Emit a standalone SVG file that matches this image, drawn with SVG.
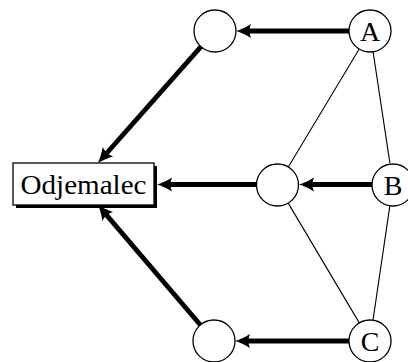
<svg xmlns="http://www.w3.org/2000/svg" width="408" height="362" viewBox="0 0 408 362">
  <style>
    .node { fill: #fff; stroke: #000; stroke-width: 1.3; }
    .label { font-family: "Liberation Serif", "Times New Roman", serif; font-size: 28px; fill: #000; text-anchor: middle; }
    .thick { stroke: #000; stroke-width: 4.8; fill: none; marker-end: url(#head); }
    .thin { stroke: #000; stroke-width: 1.1; fill: none; }
  </style>
  <defs>
    <marker id="head" viewBox="-1 -8 17 16" refX="7" refY="0" markerWidth="17" markerHeight="16" markerUnits="userSpaceOnUse" orient="auto">
      <path d="M15 0 C11 -1 4.5 -4.2 0 -7 C2 -3 2 3 0 7 C4.5 4.2 11 1 15 0 Z" fill="#000"/>
    </marker>
  </defs>

  <g id="connectors">
    <line class="thin" x1="359.2" y1="49" x2="288.3" y2="167"/>
    <line class="thin" x1="288.2" y1="203.1" x2="359.3" y2="322.9"/>
    <line class="thin" x1="373.1" y1="51.8" x2="389.9" y2="163.2"/>
    <line class="thin" x1="390" y1="204.8" x2="373" y2="320.2"/>
    <line class="thick" x1="349" y1="31" x2="244" y2="31"/>
    <line class="thick" x1="372" y1="184.5" x2="307" y2="184.5"/>
    <line class="thick" x1="349" y1="341" x2="243" y2="341"/>
    <line class="thick" x1="256" y1="184.5" x2="165" y2="184.5"/>
    <line class="thick" x1="201" y1="46.6" x2="103.3" y2="157"/>
    <line class="thick" x1="200.4" y1="325" x2="103.2" y2="211.1"/>
  </g>

  <g id="odjemalec">
    <rect x="16" y="166" width="141" height="42" fill="#000"/>
    <rect class="node" x="13" y="163" width="141" height="42"/>
    <text class="label" x="83.5" y="193.5" textLength="126" lengthAdjust="spacingAndGlyphs">Odjemalec</text>
  </g>
  <g id="relay-top">
    <circle class="node" cx="215" cy="31" r="21"/>
  </g>
  <g id="relay-mid">
    <circle class="node" cx="277.5" cy="185" r="21"/>
  </g>
  <g id="relay-bottom">
    <circle class="node" cx="214" cy="341" r="21"/>
  </g>
  <g id="node-a">
    <circle class="node" cx="370" cy="31" r="21"/>
    <text class="label" x="370" y="40.5">A</text>
  </g>
  <g id="node-b">
    <circle class="node" cx="393" cy="185" r="21"/>
    <text class="label" x="393" y="194.5">B</text>
  </g>
  <g id="node-c">
    <circle class="node" cx="370" cy="341" r="21"/>
    <text class="label" x="370" y="350.5">C</text>
  </g>
</svg>
